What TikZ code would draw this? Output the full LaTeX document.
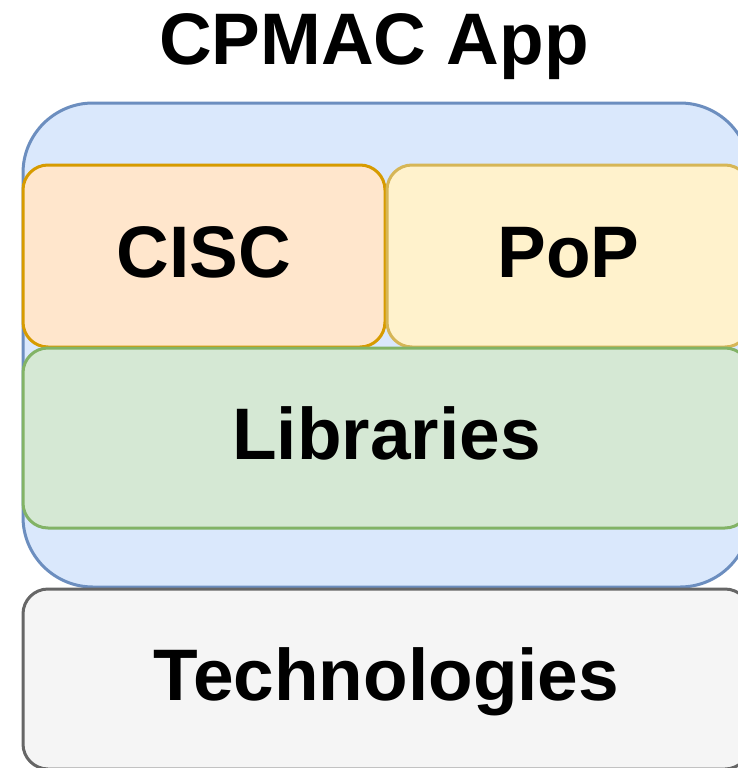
\documentclass[tikz,border=0pt]{standalone}
\usepackage{fontspec}
\setmainfont{Liberation Sans}
\definecolor{blueF}{HTML}{DAE8FC}\definecolor{blueD}{HTML}{6C8EBF}
\definecolor{orangeF}{HTML}{FFE6CC}\definecolor{orangeD}{HTML}{D79B00}
\definecolor{yellowF}{HTML}{FFF2CC}\definecolor{yellowD}{HTML}{D6B656}
\definecolor{greenF}{HTML}{D5E8D4}\definecolor{greenD}{HTML}{82B366}
\definecolor{greyF}{HTML}{F5F5F5}\definecolor{greyD}{HTML}{666666}
\tikzset{
  layer/.style={rectangle, rounded corners=25pt, line width=3pt, inner sep=0pt,
    font=\fontsize{73}{80}\selectfont\bfseries, text height=53pt, text depth=11pt},
  titletext/.style={font=\fontsize{73}{80}\selectfont\bfseries, inner sep=0pt},
}
\begin{document}
\begin{tikzpicture}[x=1pt,y=-1pt]
\useasboundingbox (0,0) rectangle (738,768);
\clip (0,0) rectangle (738,768);
\node[titletext, anchor=base] (title) at (374,65) {CPMAC App};
\node[layer, rounded corners=70pt, draw=blueD, fill=blueF, minimum width=727pt, minimum height=484pt] (app) at (386.5,345) {};
\node[layer, draw=orangeD, fill=orangeF, minimum width=362pt, minimum height=182pt] (cisc) at (204,256) {CISC};
\node[layer, draw=yellowD, fill=yellowF, minimum width=363pt, minimum height=182pt] (pop) at (568.5,256) {PoP};
\node[layer, draw=greenD, fill=greenF, minimum width=727pt, minimum height=180pt] (lib) at (386.5,438) {Libraries};
\node[layer, draw=greyD, fill=greyF, minimum width=727pt, minimum height=180pt] (tech) at (386.5,679) {Technologies};
\end{tikzpicture}
\end{document}
